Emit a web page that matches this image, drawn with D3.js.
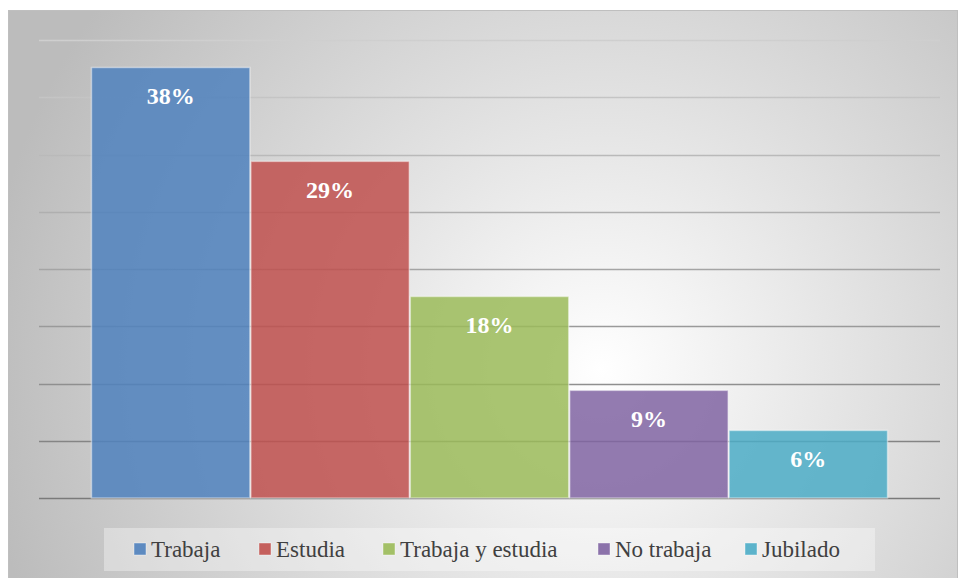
<!DOCTYPE html>
<html>
<head>
<meta charset="utf-8">
<script src="https://cdn.jsdelivr.net/npm/d3@7"></script>
<style>
  body { margin: 0; background: #fff; }
  svg { display: block; }
</style>
</head>
<body>
<div id="chart"></div>
<script>
// categories and values (percent)
var categories = ["Trabaja", "Estudia", "Trabaja y estudia", "No trabaja", "Jubilado"];
var values = [37.6, 29.4, 17.6, 9.4, 5.9];
var labels = ["38%", "29%", "18%", "9%", "6%"];
var colors = ["#4f81bd", "#c0504d", "#9bbb59", "#8064a2", "#4bacc6"];
var gridTicks = [0, 5, 10, 15, 20, 25, 30, 35, 40];

var W = 959, H = 578;
var serif = "'Liberation Serif'";

var svg = d3.select("#chart").append("svg")
    .attr("width", W)
    .attr("height", H);

var defs = svg.append("defs");

var bg = defs.append("radialGradient")
    .attr("id", "bg")
    .attr("gradientUnits", "userSpaceOnUse")
    .attr("cx", 600).attr("cy", 370).attr("r", 620);
bg.append("stop").attr("offset", "0").attr("stop-color", "#ffffff");
bg.append("stop").attr("offset", "1").attr("stop-color", "#bcbcbc");

var gl = defs.append("linearGradient")
    .attr("id", "gridGrad")
    .attr("gradientUnits", "userSpaceOnUse")
    .attr("x1", 0).attr("y1", 40).attr("x2", 0).attr("y2", 498);
gl.append("stop").attr("offset", "0").attr("stop-color", "#cfcfcf");
gl.append("stop").attr("offset", "1").attr("stop-color", "#7a7a7a");

// chart frame
svg.append("rect")
    .attr("x", 8.5).attr("y", 10.5)
    .attr("width", 949).attr("height", 570)
    .attr("fill", "url(#bg)")
    .attr("stroke", "#bfbfbf");

var x = d3.scaleBand()
    .domain(categories)
    .range([39, 940])
    .paddingInner(0)
    .paddingOuter(0.326);

var y = d3.scaleLinear()
    .domain([0, 40])
    .range([498, 40]);

// gridlines
svg.append("g")
    .selectAll("line")
    .data(gridTicks)
    .enter().append("line")
    .attr("x1", 39).attr("x2", 940)
    .attr("y1", function(d) { return Math.round(y(d)) + 0.5; })
    .attr("y2", function(d) { return Math.round(y(d)) + 0.5; })
    .attr("stroke", "url(#gridGrad)")
    .attr("stroke-width", 1.3);

// bars
var bars = svg.append("g")
    .selectAll("g")
    .data(categories)
    .enter().append("g");

bars.append("rect")
    .attr("x", function(d) { return x(d) + 0.5; })
    .attr("y", function(d, i) { return y(values[i]); })
    .attr("width", x.bandwidth() - 1)
    .attr("height", function(d, i) { return y(0) - y(values[i]); })
    .attr("fill", function(d, i) { return colors[i]; })
    .attr("fill-opacity", 0.85)
    .attr("stroke", "#ffffff")
    .attr("stroke-opacity", 0.45)
    .attr("stroke-width", 1.5);

bars.append("text")
    .attr("x", function(d) { return x(d) + x.bandwidth() / 2; })
    .attr("y", function(d, i) { return y(values[i]) + 37; })
    .attr("text-anchor", "middle")
    .style("font-family", serif)
    .style("font-weight", "bold")
    .style("font-size", "24px")
    .attr("fill", "#ffffff")
    .text(function(d, i) { return labels[i]; });

// legend
svg.append("rect")
    .attr("x", 104).attr("y", 528)
    .attr("width", 771).attr("height", 43)
    .attr("fill", "#ffffff")
    .attr("fill-opacity", 0.35);

var legendX = [134, 259, 383, 598, 745];
var leg = svg.append("g")
    .selectAll("g")
    .data(categories)
    .enter().append("g")
    .attr("transform", function(d, i) { return "translate(" + legendX[i] + ",549)"; });

leg.append("rect")
    .attr("x", 0).attr("y", -6)
    .attr("width", 12).attr("height", 12)
    .attr("fill", function(d, i) { return colors[i]; })
    .attr("fill-opacity", 0.9)
    .attr("stroke", "#ffffff")
    .attr("stroke-opacity", 0.5)
    .attr("stroke-width", 0.8);

leg.append("text")
    .attr("x", 17)
    .attr("y", 8)
    .style("font-family", serif)
    .style("font-size", "23px")
    .attr("fill", "#404040")
    .text(function(d) { return d; });
</script>
</body>
</html>
